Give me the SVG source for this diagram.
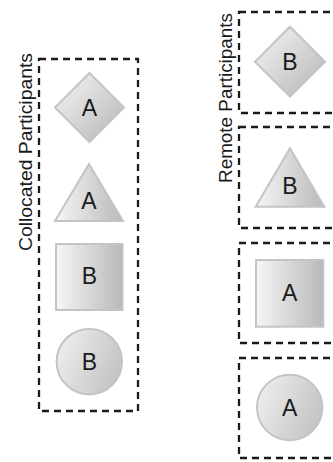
<svg xmlns="http://www.w3.org/2000/svg" width="333" height="462" viewBox="0 0 333 462">
<style>
.box{fill:none;stroke:#1a1a1a;stroke-width:2.3;stroke-dasharray:7 5}
.shape{stroke:#c4c4c4;stroke-width:2}
.lbl{font-family:"Liberation Sans",Arial,sans-serif;font-size:23px;fill:#1a1a1a;text-anchor:middle;dominant-baseline:central}
.title{font-family:"Liberation Sans",Arial,sans-serif;font-size:18px;fill:#1a1a1a;text-anchor:middle}
</style>
<defs>
<linearGradient id="gh" x1="0" y1="0" x2="1" y2="0">
<stop offset="0" stop-color="#f6f6f6"/><stop offset="1" stop-color="#b9b9b9"/>
</linearGradient>
<linearGradient id="gd" x1="0" y1="0" x2="1" y2="1">
<stop offset="0" stop-color="#f6f6f6"/><stop offset="1" stop-color="#b5b5b5"/>
</linearGradient>
<linearGradient id="gc" x1="0" y1="0" x2="1" y2="0.4">
<stop offset="0" stop-color="#f2f2f2"/><stop offset="1" stop-color="#c6c6c6"/>
</linearGradient>
</defs>
<g id="collocated">
<rect class="box" x="39" y="59" width="99" height="352"/>
<text class="title" transform="translate(32,152) rotate(-90)" textLength="198" lengthAdjust="spacingAndGlyphs">Collocated Participants</text>
</g>
<g id="remote">
<text class="title" transform="translate(232,98) rotate(-90)" textLength="170" lengthAdjust="spacingAndGlyphs">Remote Participants</text>
<rect class="box" x="239" y="12" width="110" height="101"/>
<rect class="box" x="239" y="127" width="110" height="101"/>
<rect class="box" x="239" y="243" width="110" height="100"/>
<rect class="box" x="239" y="358" width="110" height="100"/>
</g>
<g id="node-A-diamond">
<polygon class="shape" fill="url(#gd)" points="89.5,73 124,107.5 89.5,142 55,107.5"/>
<text class="lbl" x="89.5" y="107.5">A</text>
</g>
<g id="node-A-triangle">
<polygon class="shape" fill="url(#gh)" points="89,164 123,221 55,221"/>
<text class="lbl" x="89" y="201">A</text>
</g>
<g id="node-B-square">
<rect class="shape" fill="url(#gh)" x="56" y="244" width="66.5" height="66"/>
<text class="lbl" x="89.3" y="276">B</text>
</g>
<g id="node-B-circle">
<circle class="shape" fill="url(#gc)" cx="89.3" cy="361.7" r="32.7"/>
<text class="lbl" x="89.3" y="361.7">B</text>
</g>
<g id="node-B-diamond">
<polygon class="shape" fill="url(#gd)" points="290,26.7 325,61.7 290,96.7 255,61.7"/>
<text class="lbl" x="290" y="61.7">B</text>
</g>
<g id="node-B-triangle">
<polygon class="shape" fill="url(#gh)" points="290,148.3 324.3,206.7 255.7,206.7"/>
<text class="lbl" x="290" y="186">B</text>
</g>
<g id="node-A-square">
<rect class="shape" fill="url(#gh)" x="256" y="260" width="67.3" height="66.7"/>
<text class="lbl" x="289.7" y="293.3">A</text>
</g>
<g id="node-A-circle">
<circle class="shape" fill="url(#gc)" cx="289.7" cy="407.5" r="32.7"/>
<text class="lbl" x="289.7" y="407.5">A</text>
</g>
<g id="connectors"/>
</svg>
